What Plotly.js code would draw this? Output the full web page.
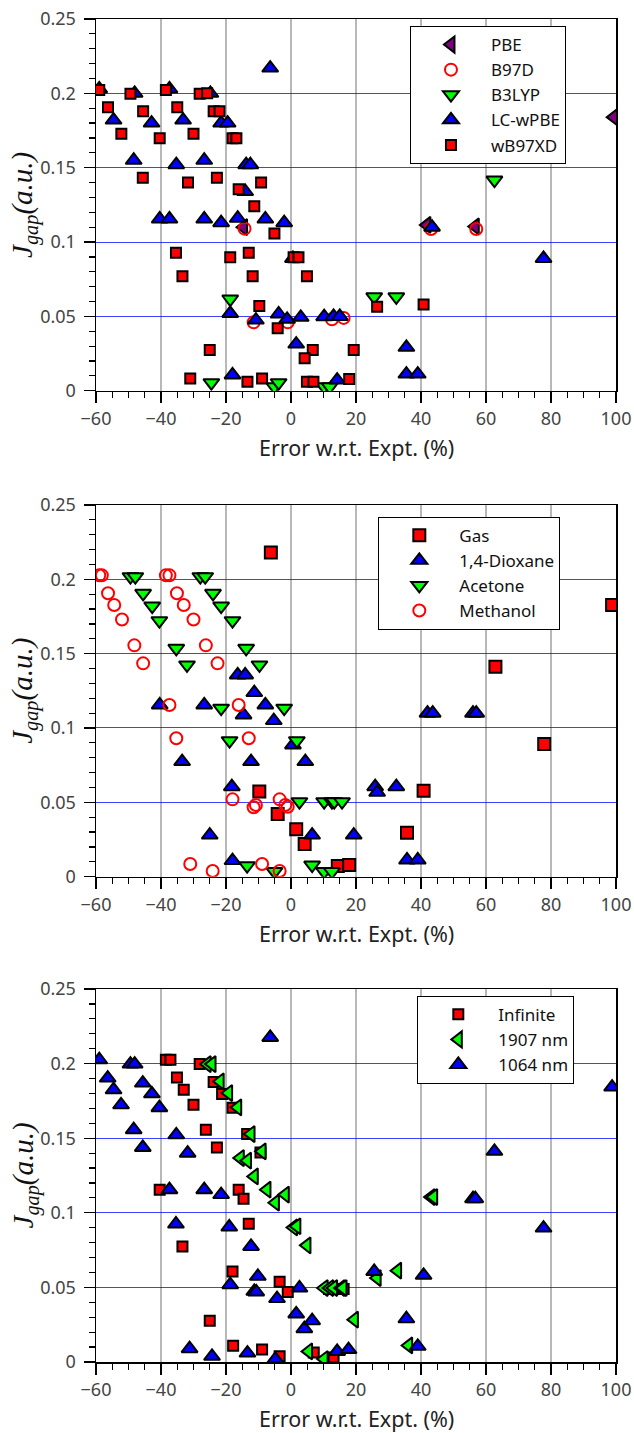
<!DOCTYPE html>
<html>
<head>
<meta charset="utf-8">
<script src="https://cdn.plot.ly/plotly-3.0.1.min.js"></script>
<style>html,body{margin:0;padding:0;background:#fff;}#chart{width:634px;height:1433px;}</style>
</head>
<body>
<div id="chart"></div>
<script>
// ---------- Panel 1: functionals ----------
const p1PbeX = [-14.6, 41.8, 56.7, 99.3];
const p1PbeY = [0.110, 0.1115, 0.1105, 0.184];
const p1B97dX = [-14.3, -11.5, -1.0, 12.6, 16.2, 43.1, 57.0];
const p1B97dY = [0.109, 0.046, 0.046, 0.048, 0.049, 0.1088, 0.1088];
const p1B3lypX = [-18.7, -24.5, -5.1, -3.8, 10.2, 11.9, 25.6, 32.4, 62.6];
const p1B3lypY = [0.0617, 0.0054, 0.0027, 0.0054, 0.0027, 0.0027, 0.0632, 0.0632, 0.1417];
const p1LcX = [-59, -54.6, -48.4, -48.1, -42.9, -37.4, -33.2, -35.3, -26.7, -24.8, -21.5, -19.5, -13.8, -12.5, -14.1, -6.4,
  -40.4, -37.4, -26.7, -21.5, -16.4, -7.9, -2.1, 0.6, -18.7, -10.8, -3.8, -1.2, 3.0, 1.6, -18.0, 10.2, 13.1, 15.0,
  35.5, 14.2, 35.5, 39.0, 43.4, 77.7];
const p1LcY = [0.203, 0.182, 0.155, 0.200, 0.180, 0.203, 0.182, 0.152, 0.155, 0.200, 0.180, 0.180, 0.152, 0.152, 0.134, 0.217,
  0.1155, 0.1155, 0.1155, 0.113, 0.116, 0.1155, 0.113, 0.089, 0.052, 0.0475, 0.0516, 0.048, 0.0494, 0.0314, 0.0106, 0.0498, 0.050, 0.050,
  0.0292, 0.0072, 0.0112, 0.0112, 0.110, 0.089];
const p1WbX = [-59, -56.3, -52.2, -45.6, -49.4, -45.5, -40.4, -38.5, -35.0, -30.0, -31.7, -22.8, -28.1, -25.8, -23.8, -22.0,
  -18.0, -16.8, -16.1, -9.2, -11.3, -5.1, -35.4, -13.0, -18.7, 0.8, 2.3, -33.4, -11.8, 4.9, -9.75, -4.1, 6.7, 4.2,
  -25.0, -31.0, -13.4, -8.9, 4.9, 6.9, 26.5, 40.8, 19.3, 17.9];
const p1WbY = [0.2022, 0.1906, 0.1729, 0.1433, 0.1998, 0.188, 0.1698, 0.2022, 0.1906, 0.1729, 0.140, 0.1433, 0.1998, 0.200, 0.188, 0.188,
  0.1698, 0.1698, 0.1355, 0.140, 0.124, 0.1058, 0.0928, 0.0928, 0.0897, 0.0897, 0.0897, 0.077, 0.077, 0.077, 0.057, 0.042, 0.0274, 0.0218,
  0.0274, 0.0083, 0.006, 0.0083, 0.006, 0.006, 0.0565, 0.058, 0.0274, 0.0079];

// ---------- Panel 2: solvents ----------
const p2GasX = [-6.2, 98.8, 62.9, -9.75, -4.1, 1.6, 4.2, 77.9, 40.8, 35.7, 14.4, 17.9];
const p2GasY = [0.218, 0.1827, 0.1412, 0.0572, 0.0422, 0.0319, 0.022, 0.0893, 0.0578, 0.0296, 0.0072, 0.0078];
const p2DioxX = [-16.4, -14.1, -11.3, -40.4, -26.7, -14.6, -7.9, -5.3, 0.6, -33.5, -12.3, 4.4, -18.2, -25.0, 6.5, -18.0,
  42.0, 43.6, 56.0, 57.0, 25.9, 26.5, 32.4, 19.3, 35.7, 39.0];
const p2DioxY = [0.1357, 0.1357, 0.1238, 0.1155, 0.1155, 0.1088, 0.1155, 0.105, 0.0886, 0.0774, 0.0774, 0.0774, 0.0605, 0.028, 0.028, 0.0108,
  0.110, 0.110, 0.110, 0.110, 0.0605, 0.0567, 0.0605, 0.028, 0.0112, 0.0112];
const p2AcetX = [-49.4, -47.9, -27.9, -26.4, -45.5, -42.7, -40.5, -24.0, -21.5, -18.0, -35.3, -32.0, -13.8, -9.7,
  -21.5, -2.1, -18.9, 1.8, 2.6, 10.2, 12.6, 13.3, 15.7, -13.5, -5.1, 6.5, 10.2, 12.6];
const p2AcetY = [0.2018, 0.2018, 0.2018, 0.2018, 0.1906, 0.182, 0.1722, 0.1906, 0.182, 0.1722, 0.1536, 0.1424, 0.1536, 0.1424,
  0.1133, 0.1133, 0.0915, 0.0915, 0.0504, 0.0504, 0.0504, 0.0504, 0.0504, 0.0074, 0.0034, 0.0078, 0.0034, 0.0034];
const p2MethX = [-59.0, -58.2, -38.5, -37.4, -56.3, -54.4, -52.0, -48.2, -45.5, -35.1, -33.0, -30.0, -26.2, -22.6,
  -37.4, -16.1, -35.3, -13.0, -18.0, -3.5, -11.5, -10.8, -1.0, -1.75, -31.0, -24.1, -8.9, -3.5];
const p2MethY = [0.2027, 0.2027, 0.2027, 0.2027, 0.1906, 0.1827, 0.173, 0.1556, 0.1435, 0.1906, 0.1827, 0.173, 0.1556, 0.1435,
  0.1155, 0.1155, 0.0931, 0.0931, 0.052, 0.052, 0.0467, 0.0482, 0.047, 0.0482, 0.0085, 0.0038, 0.0085, 0.0038];

// ---------- Panel 3: wavelengths ----------
const p3InfX = [-38.5, -37.1, -35.1, -33.0, -30.0, -26.2, -22.8, -28.1, -23.8, -21.2, -18.0, -13.5, -9.4,
  -40.4, -16.1, -14.6, -33.4, -13.0, -18.0, -3.5, -1.0, -25.0, -17.8, -8.9, -3.5, 7.0, 16.2, 11.7, 13.1];
const p3InfY = [0.2026, 0.2026, 0.1907, 0.1825, 0.1724, 0.1557, 0.1438, 0.1997, 0.1877, 0.1797, 0.1704, 0.1528, 0.1405,
  0.1155, 0.1155, 0.1095, 0.0775, 0.0927, 0.0607, 0.0538, 0.0469, 0.0277, 0.0109, 0.0083, 0.0038, 0.0063, 0.049, 0.049, 0.003];
const p3NmAX = [-25.8, -24.3, -21.8, -19.2, -16.4, -12.3, -8.9, -15.6, -13.4, -11.3, -7.4, -4.8, -1.75, 0.8, 1.8, 4.9,
  43.1, 43.9, 26.5, 32.8, 10.2, 11.9, 13.1, 15.4, 16.0, 19.5, 36.2, 5.4, 10.2];
const p3NmAY = [0.1997, 0.1997, 0.1881, 0.1803, 0.1707, 0.1528, 0.1412, 0.1367, 0.135, 0.1244, 0.1155, 0.1068, 0.1122, 0.0902, 0.091, 0.0782,
  0.1106, 0.1106, 0.0563, 0.0612, 0.0496, 0.0496, 0.0496, 0.0496, 0.0496, 0.0284, 0.0111, 0.0071, 0.002];
const p3NmBX = [-59.0, -49.4, -48.1, -56.4, -54.6, -52.3, -48.4, -45.6, -45.6, -42.8, -40.5, -35.3, -31.8, -6.4, 98.8, 62.6,
  -37.4, -26.7, -21.5, -35.4, -19.0, -12.3, -18.7, -10.2, -11.3, -10.7, -4.3, 2.6, 1.6, 4.1, 6.5, -31.2, -24.3, -13.4, -4.8,
  56.0, 56.7, 77.7, 25.6, 40.8, 35.5, 39.0, 14.2, 17.7];
const p3NmBY = [0.2026, 0.1997, 0.1997, 0.1903, 0.1825, 0.1724, 0.1557, 0.1438, 0.187, 0.1798, 0.1705, 0.1523, 0.140, 0.2176, 0.1843, 0.1412,
  0.1155, 0.1155, 0.1122, 0.0925, 0.0905, 0.0775, 0.0518, 0.0574, 0.0474, 0.047, 0.0425, 0.0496, 0.0322, 0.0223, 0.0277, 0.0089, 0.0038, 0.006, 0.002,
  0.1095, 0.1095, 0.0898, 0.0607, 0.0581, 0.029, 0.0105, 0.0071, 0.0083];

// ---------- styles ----------
const OUT = {color: '#000', width: 2};
const mSquare = {symbol: 'square', size: 10, color: '#ff0000', line: OUT};
const mUp = {symbol: 'triangle-up', size: 14, color: '#0000ff', line: OUT};
const mDown = {symbol: 'triangle-down', size: 14, color: '#00ff00', line: OUT};
const mLeftG = {symbol: 'triangle-left', size: 14, color: '#00ff00', line: OUT};
const mLeftP = {symbol: 'triangle-left', size: 14, color: '#800080', line: OUT};
const mCircle = {symbol: 'circle-open', size: 12, color: '#ff0000', line: {color: '#ff0000', width: 2}};

function tr(x, y, name, marker, ax, leg) {
  return {x: x, y: y, name: name, type: 'scatter', mode: 'markers', marker: marker,
    xaxis: 'x' + ax, yaxis: 'y' + ax, legend: leg, hoverinfo: 'skip'};
}

const data = [
  tr(p1PbeX, p1PbeY, 'PBE', mLeftP, '', 'legend'),
  tr(p1B97dX, p1B97dY, 'B97D', mCircle, '', 'legend'),
  tr(p1B3lypX, p1B3lypY, 'B3LYP', mDown, '', 'legend'),
  tr(p1LcX, p1LcY, 'LC-wPBE', mUp, '', 'legend'),
  tr(p1WbX, p1WbY, 'wB97XD', mSquare, '', 'legend'),
  tr(p2GasX, p2GasY, 'Gas', Object.assign({}, mSquare, {size: 12}), '2', 'legend2'),
  tr(p2DioxX, p2DioxY, '1,4-Dioxane', mUp, '2', 'legend2'),
  tr(p2AcetX, p2AcetY, 'Acetone', mDown, '2', 'legend2'),
  tr(p2MethX, p2MethY, 'Methanol', mCircle, '2', 'legend2'),
  tr(p3InfX, p3InfY, 'Infinite', mSquare, '3', 'legend3'),
  tr(p3NmAX, p3NmAY, '1907 nm', mLeftG, '3', 'legend3'),
  tr(p3NmBX, p3NmBY, '1064 nm', mUp, '3', 'legend3')
];

const TICKFONT = {family: 'Noto Sans, sans-serif', size: 18, color: '#444'};
function xax(anchor) {
  return {anchor: anchor, range: [-60, 100], tick0: -60, dtick: 20, showline: true, mirror: true,
    linecolor: '#000', linewidth: 1.5, ticks: 'outside', ticklen: 11, tickwidth: 1.3, tickcolor: '#000',
    tickfont: TICKFONT, zeroline: false, showgrid: true, gridcolor: '#b8b8b8', gridwidth: 1.3,
    minor: {dtick: 5, ticks: 'outside', ticklen: 6, tickwidth: 1.2, tickcolor: '#000', showgrid: false},
    fixedrange: true};
}
function yax(anchor, dom) {
  return {anchor: anchor, domain: dom, range: [0, 0.25], tick0: 0, dtick: 0.05, showline: true, mirror: true,
    linecolor: '#000', linewidth: 1.5, ticks: 'outside', ticklen: 11, tickwidth: 1.3, tickcolor: '#000',
    tickfont: TICKFONT, zeroline: false, showgrid: true, gridcolor: 'rgba(0,0,255,0.75)', gridwidth: 1,
    minor: {dtick: 0.01, ticks: 'outside', ticklen: 6, tickwidth: 1.2, tickcolor: '#000', showgrid: false},
    ticklabelstandoff: 4, fixedrange: true};
}
function leg(x, y) {
  return {x: x, y: y, xanchor: 'left', yanchor: 'top', bgcolor: '#fff', bordercolor: '#000', borderwidth: 1,
    font: {family: 'Noto Sans, sans-serif', size: 17, color: '#111'}, itemwidth: 70, tracegroupgap: 0};
}

const YT = '<i>J</i><sub><i>gap</i></sub><i>(a.u.)</i>';
const XT = 'Error w.r.t. Expt. (%)';
function ytitle(y) {
  return {text: YT, xref: 'paper', yref: 'paper', x: -0.1365, y: y, xanchor: 'center', yanchor: 'middle',
    textangle: -90, showarrow: false, font: {family: 'Liberation Serif, DejaVu Serif, serif', size: 29, color: '#111'}};
}
function xtitle(y) {
  return {text: XT, xref: 'paper', yref: 'paper', x: 0.5, y: y, xanchor: 'center', yanchor: 'middle',
    showarrow: false, font: {family: 'Noto Sans, sans-serif', size: 21.5, color: '#222'}};
}

const layout = {
  width: 634, height: 1433,
  margin: {l: 96, r: 18, t: 19, b: 71},
  paper_bgcolor: '#fff', plot_bgcolor: '#fff',
  showlegend: true,
  xaxis: xax('y'), yaxis: yax('x', [0.7232, 1.0]),
  xaxis2: xax('y2'), yaxis2: yax('x2', [0.3614, 0.6381]),
  xaxis3: xax('y3'), yaxis3: yax('x3', [0.0, 0.2777]),
  legend: leg(0.6038, 0.9948),
  legend2: leg(0.5429, 0.6294),
  legend3: leg(0.6179, 0.2727),
  annotations: [ytitle(0.8616), ytitle(0.4998), ytitle(0.1389),
    xtitle(0.6813), xtitle(0.3194), xtitle(-0.0417)]
};

Plotly.newPlot('chart', data, layout, {displayModeBar: false, staticPlot: true});
</script>
</body>
</html>
